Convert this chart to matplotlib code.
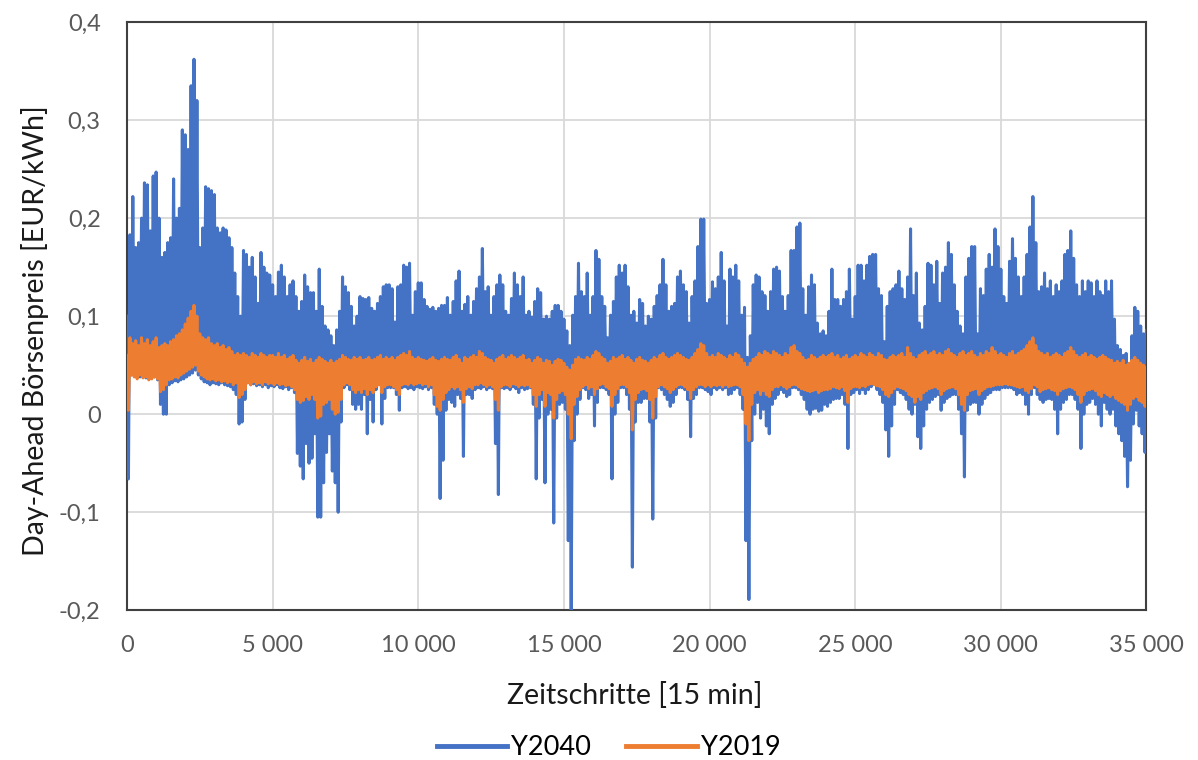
import numpy as np
import matplotlib.pyplot as plt
from matplotlib.ticker import FuncFormatter, MultipleLocator

# Day-ahead prices in EUR/MWh (converted to EUR/kWh below).
# One upper and one lower value per 100 time steps (15 min each).
y2040_hi = [
    100, 183, 222, 170, 175, 200, 236, 234, 187, 243,
    247, 200, 160, 165, 175, 180, 240, 200, 210, 290,
    285, 270, 335, 362, 320, 170, 190, 232, 230, 228,
    224, 190, 185, 190, 188, 180, 170, 144, 120, 100,
    167, 163, 150, 160, 140, 113, 165, 150, 144, 142,
    132, 120, 145, 152, 140, 120, 132, 136, 120, 105,
    115, 142, 130, 124, 124, 105, 148, 110, 90, 86,
    80, 70, 86, 105, 140, 130, 124, 110, 90, 100,
    120, 118, 117, 119, 108, 105, 113, 120, 130, 132,
    132, 128, 94, 130, 132, 152, 150, 154, 101, 125,
    134, 134, 117, 110, 107, 109, 105, 108, 111, 111,
    119, 101, 115, 136, 146, 105, 112, 120, 101, 115,
    128, 140, 169, 125, 130, 101, 120, 132, 142, 132,
    105, 101, 118, 144, 132, 120, 140, 101, 105, 99,
    115, 128, 124, 97, 100, 97, 105, 111, 111, 105,
    97, 85, 70, 101, 120, 154, 125, 120, 144, 101,
    120, 167, 158, 120, 110, 78, 101, 115, 140, 152,
    144, 152, 130, 101, 105, 93, 117, 113, 90, 100,
    97, 110, 121, 132, 158, 132, 105, 110, 113, 140,
    146, 132, 125, 93, 120, 136, 171, 199, 199, 113,
    117, 135, 128, 140, 165, 136, 90, 148, 140, 152,
    136, 101, 109, 58, 80, 132, 142, 140, 125, 121,
    105, 125, 148, 150, 146, 120, 105, 121, 167, 167,
    191, 195, 128, 101, 130, 142, 132, 93, 82, 85,
    80, 105, 148, 117, 117, 110, 117, 125, 148, 97,
    120, 152, 152, 136, 152, 161, 163, 163, 128, 121,
    74, 110, 125, 128, 132, 146, 128, 117, 140, 189,
    121, 144, 93, 86, 110, 154, 152, 132, 156, 113,
    144, 150, 175, 163, 132, 105, 90, 82, 140, 159,
    171, 171, 82, 128, 121, 148, 163, 150, 189, 171,
    148, 120, 113, 156, 179, 159, 140, 120, 140, 163,
    191, 222, 175, 125, 130, 144, 128, 136, 120, 132,
    125, 136, 163, 167, 187, 159, 132, 120, 136, 125,
    136, 134, 120, 136, 125, 121, 136, 125, 136, 97,
    70, 66, 60, 62, 51, 80, 109, 105, 90, 82,
    86,
]
y2040_lo = [
    -66, 40, 39, 40, 38, 39, 37, 36, 37, 38,
    35, 10, 0, 0, 30, 32, 34, 33, 35, 36,
    38, 40, 42, 45, 40, 36, 33, 32, 30, 32,
    31, 30, 32, 30, 29, 28, 25, 20, -10, -8,
    15, 32, 30, 31, 29, 30, 28, 30, 27, 29,
    28, 30, 27, 26, 28, 25, 27, 22, -40, -53,
    -66, -30, -50, -45, -20, -105, -105, -70, -39, -20,
    -58, -70, -100, -8, 27, 30, 25, 10, 5, 10,
    5, 20, -20, 15, -8, 25, 30, -10, 16, 27,
    27, 27, 20, 4, 27, 28, 26, 27, 25, 28,
    27, 26, 28, 25, 27, 10, 0, -86, -47, 4,
    15, 12, 8, 20, 16, -43, 20, 20, 16, 25,
    27, 26, 28, 25, 27, 26, -30, -82, 27, 26,
    27, 25, 28, 26, 22, 27, 25, 26, 27, 10,
    -66, -4, 15, -70, 0, 5, -111, -4, 10, 12,
    5, -129, -200, -27, 0, 15, 27, 25, 16, 20,
    -12, 12, 27, 27, 25, 20, -66, 0, 12, 27,
    27, 20, 5, -156, -8, 12, 12, 16, 16, -8,
    -107, -4, 27, 25, 20, 15, 8, 12, 20, 27,
    27, 25, 15, -23, 16, 20, 27, 27, 25, 23,
    20, 27, 25, 27, 25, 27, 20, 21, 25, 27,
    20, 5, -129, -189, -27, 0, 12, -4, 5, -12,
    -20, 10, 16, 20, 25, 22, 18, 20, 27, 27,
    25, 20, 15, 5, 0, 5, 6, 3, 4, 10,
    8, 12, 15, 16, 16, 20, 10, -35, 20, 22,
    25, 21, 25, 21, 25, 28, 31, 25, 20, 12,
    -16, -43, -12, 10, 25, 22, 20, 15, 5, 0,
    10, -23, -35, -12, 5, 12, 15, 18, 20, 4,
    12, 16, 18, 20, 20, 5, -20, -64, 4, 10,
    12, 12, 0, 10, 16, 20, 22, 25, 25, 25,
    27, 27, 27, 27, 25, 20, 22, 20, 10, 0,
    20, 27, 20, 15, 12, 15, 16, 15, 5, -20,
    5, 12, 15, 20, 20, 15, 5, -35, 0, 10,
    12, 16, 10, 0, -12, 12, 5, 0, 5, -12,
    -20, -27, -43, -74, -47, -10, 4, -12, -20, -39,
    -54,
]
y2019_hi = [
    60, 78, 72, 75, 70, 78, 72, 76, 70, 74,
    78, 68, 70, 72, 70, 74, 76, 80, 82, 86,
    92, 98, 105, 111, 100, 82, 78, 76, 78, 72,
    70, 72, 68, 70, 66, 68, 64, 60, 62, 60,
    62, 60, 58, 62, 60, 58, 62, 60, 58, 60,
    60, 58, 62, 58, 60, 56, 58, 60, 55, 52,
    55, 58, 54, 56, 52, 55, 58, 56, 54, 52,
    55, 52, 54, 56, 60, 58, 56, 55, 58, 56,
    58, 55, 56, 58, 55, 56, 58, 60, 56, 58,
    56, 58, 55, 58, 60, 62, 60, 64, 58, 56,
    58, 56, 55, 54, 56, 58, 55, 54, 56, 58,
    56, 55, 58, 60, 56, 52, 58, 56, 58, 60,
    58, 64, 62, 58, 56, 55, 52, 56, 58, 60,
    56, 58, 60, 58, 56, 58, 60, 55, 56, 52,
    55, 58, 56, 52, 55, 54, 50, 54, 56, 55,
    52, 48, 45, 50, 56, 58, 56, 55, 58, 56,
    60, 64, 62, 58, 56, 52, 54, 58, 56, 58,
    60, 56, 58, 55, 52, 56, 58, 55, 54, 52,
    55, 58, 56, 60, 62, 58, 56, 58, 60, 62,
    60, 58, 56, 55, 58, 62, 66, 72, 70, 62,
    58, 60, 58, 62, 60, 58, 56, 60, 58, 62,
    60, 56, 52, 48, 52, 56, 58, 62, 60, 64,
    62, 60, 64, 62, 60, 58, 62, 60, 68, 70,
    64, 62, 58, 55, 56, 60, 58, 56, 58, 60,
    58, 60, 62, 58, 60, 56, 58, 60, 56, 58,
    60, 58, 62, 60, 58, 62, 60, 58, 62, 60,
    56, 55, 58, 60, 58, 60, 62, 58, 68, 62,
    58, 56, 60, 62, 64, 60, 62, 64, 60, 62,
    60, 64, 66, 62, 60, 58, 62, 64, 60, 62,
    64, 60, 58, 62, 60, 64, 62, 68, 64, 60,
    62, 60, 58, 62, 64, 60, 62, 64, 66, 70,
    74, 78, 70, 64, 62, 60, 62, 58, 60, 62,
    60, 58, 62, 64, 68, 64, 60, 58, 60, 62,
    58, 60, 58, 56, 58, 60, 58, 56, 55, 52,
    54, 52, 55, 50, 52, 55, 58, 55, 52, 50,
    48,
]
y2019_lo = [
    4, 40, 38, 36, 40, 37, 38, 35, 36, 38,
    36, 23, 25, 30, 35, 36, 38, 37, 40, 42,
    44, 46, 48, 50, 44, 40, 38, 36, 35, 36,
    34, 35, 33, 34, 32, 33, 30, 32, 17, 20,
    25, 32, 30, 33, 31, 32, 30, 33, 31, 32,
    30, 32, 30, 31, 29, 30, 28, 25, 15, 12,
    14, 18, 15, 20, 15, -4, -2, 10, 12, 15,
    5, 0, 2, 15, 30, 32, 30, 25, 22, 25,
    22, 26, 20, 25, 22, 28, 30, 22, 28, 30,
    30, 28, 25, 20, 30, 31, 30, 32, 30, 31,
    32, 30, 31, 28, 30, 20, 8, 4, 15, 22,
    25, 28, 26, 28, 25, 12, 26, 28, 26, 30,
    30, 32, 30, 28, 30, 28, 15, 4, 28, 30,
    30, 28, 31, 30, 28, 30, 29, 30, 28, 20,
    8, 20, 25, 8, 22, 20, -4, 15, 22, 24,
    20, 0, -25, 10, 18, 25, 28, 30, 26, 28,
    20, 26, 30, 31, 28, 26, 8, 20, 26, 30,
    30, 28, 22, -16, 15, 22, 25, 26, 24, 15,
    -4, 18, 28, 30, 28, 26, 22, 25, 28, 30,
    30, 28, 25, 16, 25, 28, 30, 30, 28, 30,
    28, 30, 29, 30, 28, 30, 28, 29, 30, 30,
    28, 20, -10, -27, 10, 22, 25, 20, 24, 20,
    18, 25, 28, 28, 30, 28, 26, 28, 30, 30,
    28, 26, 25, 24, 23, 24, 25, 22, 24, 25,
    25, 26, 28, 27, 26, 28, 24, 12, 26, 28,
    28, 27, 29, 28, 30, 31, 30, 29, 28, 25,
    20, 18, 22, 26, 28, 27, 26, 24, 20, 18,
    12, 18, 15, 22, 24, 26, 27, 28, 26, 20,
    24, 26, 27, 28, 26, 20, 10, 4, 20, 24,
    25, 26, 20, 24, 26, 28, 28, 29, 30, 30,
    30, 31, 30, 30, 29, 28, 27, 28, 24, 22,
    26, 30, 28, 23, 25, 26, 27, 25, 24, 20,
    24, 26, 27, 28, 27, 25, 20, 12, 20, 24,
    25, 26, 24, 20, 18, 22, 20, 18, 20, 16,
    14, 12, 10, 4, 10, 16, 18, 14, 12, 8,
    10,
]

STEP = 100


def interleave(hi, lo):
    # upper and lower readings alternate along the time axis
    n = min(len(hi), len(lo))
    x = np.empty(2 * n)
    y = np.empty(2 * n)
    x[0::2] = np.arange(n) * STEP
    x[1::2] = np.arange(n) * STEP + STEP / 2
    y[0::2] = np.array(hi[:n]) / 1000
    y[1::2] = np.array(lo[:n]) / 1000
    return x, y


x40, v40 = interleave(y2040_hi, y2040_lo)
x19, v19 = interleave(y2019_hi, y2019_lo)

plt.rcParams['font.family'] = ['Lato', 'DejaVu Sans']

fig = plt.figure(figsize=(11.98, 7.6), dpi=100)
ax = fig.add_axes([0.106, 0.197, 0.851, 0.774])

ax.plot(x40, v40, color='#4472C4', lw=2.2, label='Y2040', zorder=3)
ax.plot(x19, v19, color='#ED7D31', lw=2.2, label='Y2019', zorder=4)

ax.set_xlim(0, 35000)
ax.set_ylim(-0.2, 0.4)
ax.xaxis.set_major_locator(MultipleLocator(5000))
ax.yaxis.set_major_locator(MultipleLocator(0.1))
ax.xaxis.set_major_formatter(FuncFormatter(lambda v, p: f"{int(round(v)):,}".replace(',', ' ')))
ax.yaxis.set_major_formatter(FuncFormatter(lambda v, p: '0' if abs(v) < 1e-9 else f"{v:.1f}".replace('.', ',')))

ax.grid(True, color='#D9D9D9', lw=1.3)
ax.set_axisbelow(True)
ax.tick_params(length=0, labelsize=17, colors='#595959')
ax.tick_params(axis='x', pad=18)
ax.tick_params(axis='y', pad=19)
for s in ax.spines.values():
    s.set_color('#404040')
    s.set_linewidth(1.5)

ax.set_xlabel('Zeitschritte [15 min]', fontsize=20.5, color='#1a1a1a', va='center')
ax.xaxis.set_label_coords(0.498, -0.145)
ax.set_ylabel('Day-Ahead Börsenpreis [EUR/kWh]', fontsize=20.5, color='#1a1a1a', va='center')
ax.yaxis.set_label_coords(-0.090, 0.476)

fig.legend(loc='center', bbox_to_anchor=(0.508, 0.016), ncol=2, frameon=False,
           fontsize=19.5, handlelength=2.6, columnspacing=1.3, handletextpad=0.15)
for line in fig.legends[0].get_lines():
    line.set_linewidth(3.5)

fig.savefig('out.png', dpi=100)
